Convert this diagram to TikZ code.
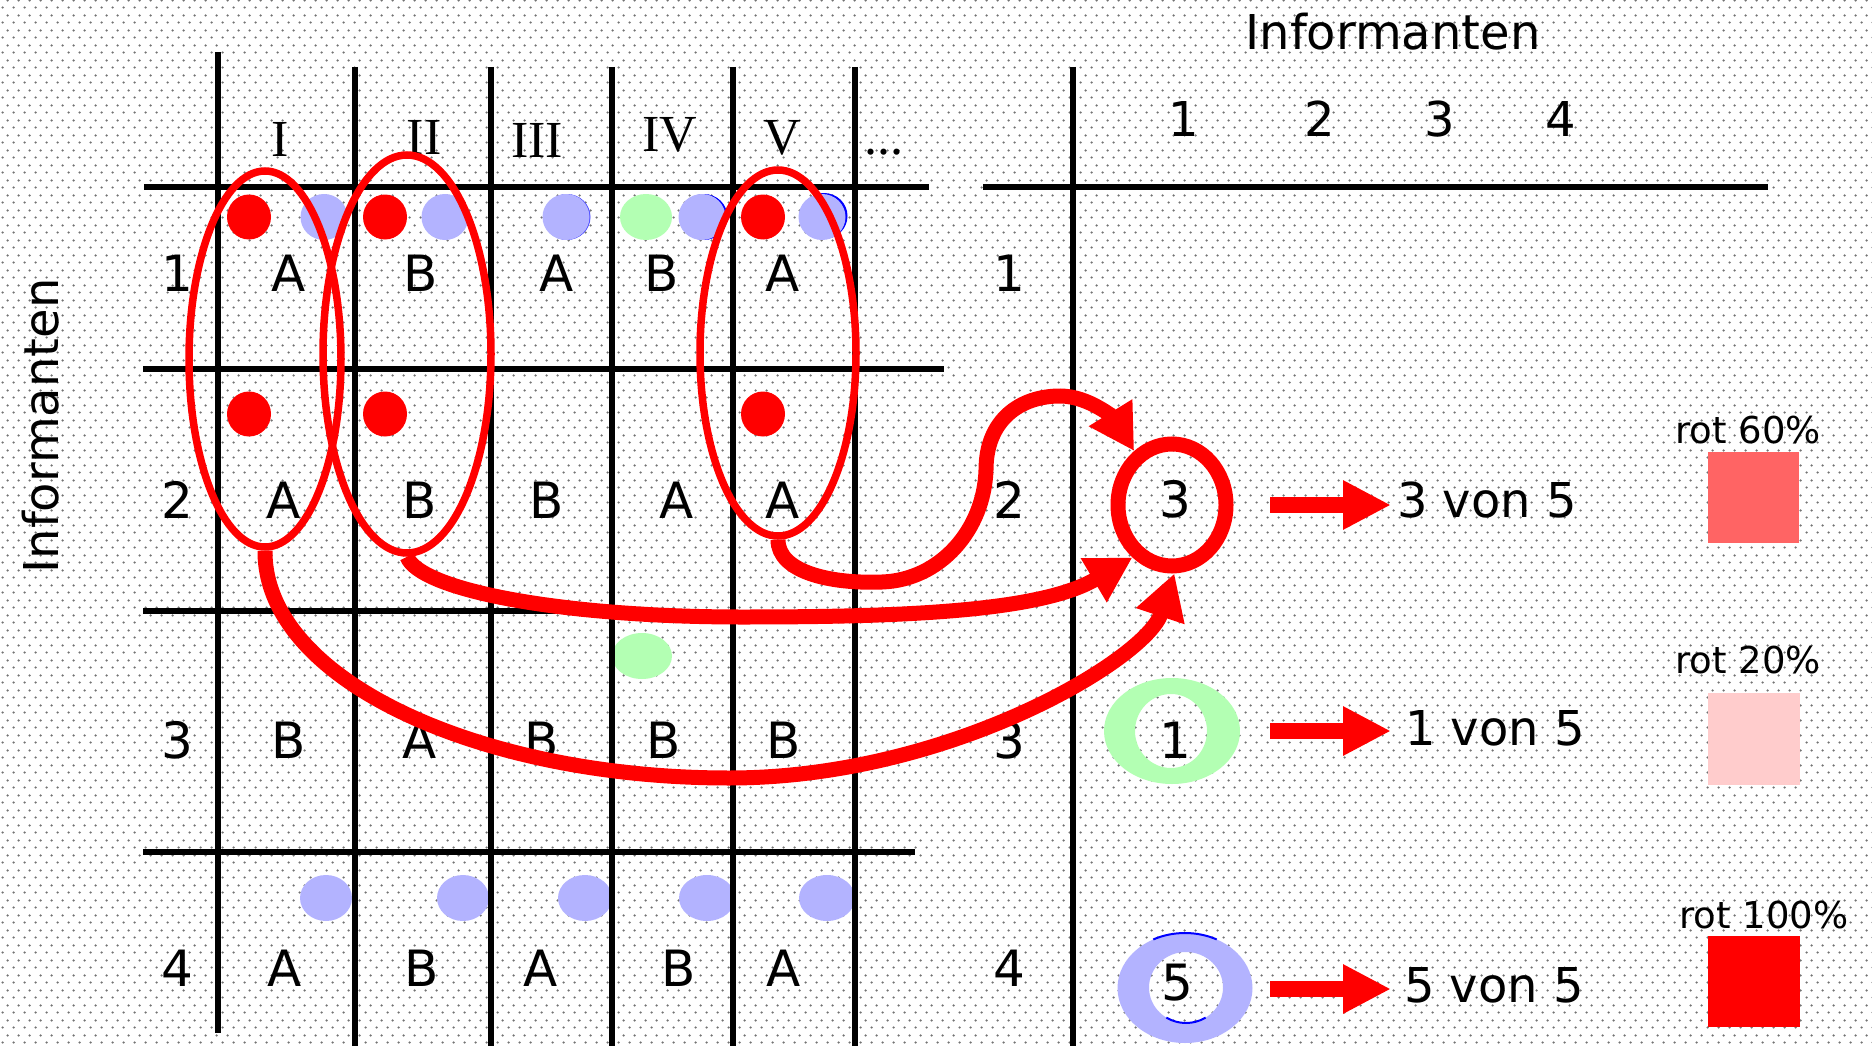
\documentclass[tikz,border=0pt]{standalone}
\usepackage{fontspec}
\setmainfont{DejaVu Sans}
\newfontfamily\romanfont{Liberation Serif}
\usetikzlibrary{patterns,shapes.geometric,arrows.meta}
\newcommand\setfs[1]{\fontsize{#1}{#1}\selectfont}
\definecolor{dotblue}{HTML}{B3B3FF}
\definecolor{dotgreen}{HTML}{B3FFB3}
\definecolor{rotsixty}{HTML}{FF6464}
\definecolor{rottwenty}{HTML}{FFCCCC}
\pgfdeclarepatternformonly{bgdots}{\pgfqpoint{0pt}{0pt}}{\pgfqpoint{10.6pt}{15pt}}{\pgfqpoint{10.6pt}{15pt}}{%
  \pgfpathcircle{\pgfqpoint{2.65pt}{3.75pt}}{1.3pt}%
  \pgfpathcircle{\pgfqpoint{7.95pt}{11.25pt}}{1.3pt}%
  \pgfusepath{fill}%
}
\begin{document}
\begin{tikzpicture}[x=1pt,y=-1pt,
  gridline/.style={line width=5.5pt, black},
  cell/.style={inner sep=0pt, anchor=base, font=\setfs{50}},
  roman/.style={inner sep=0pt, anchor=base, font=\romanfont\setfs{52}},
  headnum/.style={inner sep=0pt, anchor=base, font=\setfs{48}},
  vontext/.style={inner sep=0pt, anchor=base west, font=\setfs{48}},
  legtext/.style={inner sep=0pt, anchor=base, font=\setfs{37}},
  oval/.style={draw=red, line width=7.5pt, ellipse, inner sep=0pt},
  bigarrow/.style={red, line width=15pt, -{Triangle[length=45pt,width=48pt]}},
  blockarrow/.style={red, line width=16pt, -{Triangle[length=48pt,width=46pt]}},
  reddot/.style={fill=red},
  bluedot/.style={fill=dotblue},
  greendot/.style={fill=dotgreen}
]
\useasboundingbox (0,0) rectangle (1872,1046);
\fill[white] (0,0) rectangle (1872,1046);
\fill[pattern=bgdots, pattern color=black!55] (0,0) rectangle (1872,1046);

% ---- dots, row 1
\fill[reddot] (249,217) ellipse [x radius=22, y radius=22.5];
\fill[reddot] (385,217) ellipse [x radius=22, y radius=22.5];
\fill[reddot] (763,217) ellipse [x radius=22, y radius=22.5];
\fill[bluedot] (324,217) ellipse [x radius=23.5, y radius=23];
\fill[bluedot] (445,217) ellipse [x radius=23.5, y radius=23];
\fill[blue!70] (567,217) ellipse [x radius=23.5, y radius=23];
\fill[bluedot] (566,217) ellipse [x radius=23.5, y radius=23];
\fill[greendot] (646,217) ellipse [x radius=26, y radius=23];
\fill[blue] (704,217) ellipse [x radius=23.5, y radius=23];
\fill[bluedot] (702,217) ellipse [x radius=23.5, y radius=23];
\fill[blue] (824,216) ellipse [x radius=23.5, y radius=23];
\fill[bluedot] (822,217) ellipse [x radius=23.5, y radius=23];
% row 2
\fill[reddot] (249,414) ellipse [x radius=22, y radius=22.5];
\fill[reddot] (385,414) ellipse [x radius=22, y radius=22.5];
\fill[reddot] (763,414) ellipse [x radius=22, y radius=22.5];
% row 3
\fill[greendot] (642,656) ellipse [x radius=30, y radius=23];
% row 4
\fill[bluedot] (326,898) ellipse [x radius=26, y radius=23];
\fill[bluedot] (463,898) ellipse [x radius=26, y radius=23];
\fill[bluedot] (585,898) ellipse [x radius=27, y radius=23];
\fill[bluedot] (707,898) ellipse [x radius=28, y radius=23];
\fill[bluedot] (827,898) ellipse [x radius=28, y radius=23];

% ---- grid, left table
\draw[gridline] (218,52) -- (218,1033);
\draw[gridline] (355,67) -- (355,1046);
\draw[gridline] (491,67) -- (491,1046);
\draw[gridline] (612,67) -- (612,1046);
\draw[gridline] (733,67) -- (733,1046);
\draw[gridline] (855,67) -- (855,1046);
\draw[gridline] (144,187) -- (929,187);
\draw[gridline] (143,369) -- (944,369);
\draw[gridline] (143,611) -- (630,611);
\draw[gridline] (143,852) -- (915,852);
% right table
\draw[gridline] (1073,67) -- (1073,1046);
\draw[gridline] (983,187) -- (1768,187);

% ---- headers
\node[roman] (hI) at (280,157) {I};
\node[roman] (hII) at (424,154) {II};
\node[roman] (hIII) at (537,158) {III};
\node[roman] (hIV) at (670,152) {IV};
\node[roman] (hV) at (782,154) {V};
\node[roman] (hdots) at (884,154) {...};
\node[headnum] (informtop) at (1393,50) {Informanten};
\node[headnum, rotate=90] (informleft) at (58,426) {Informanten};
\node[headnum] (rh1) at (1184,137) {1};
\node[headnum] (rh2) at (1320,137) {2};
\node[headnum] (rh3) at (1440,137) {3};
\node[headnum] (rh4) at (1561,137) {4};

% row labels
\node[cell] (l1) at (177,291) {1};
\node[cell] (l2) at (177,518) {2};
\node[cell] (l3) at (177,758) {3};
\node[cell] (l4) at (177,986) {4};
\node[cell] (rl1) at (1009,291) {1};
\node[cell] (rl2) at (1009,518) {2};
\node[cell] (rl3) at (1009,758) {3};
\node[cell] (rl4) at (1009,986) {4};

% cells
\node[cell] (c11) at (289,291) {A};
\node[cell] (c12) at (421,291) {B};
\node[cell] (c13) at (557,291) {A};
\node[cell] (c14) at (662,291) {B};
\node[cell] (c15) at (783,291) {A};
\node[cell] (c21) at (284,518) {A};
\node[cell] (c22) at (420,518) {B};
\node[cell] (c23) at (547,518) {B};
\node[cell] (c24) at (677,518) {A};
\node[cell] (c25) at (783,518) {A};
\node[cell] (c31) at (289,758) {B};
\node[cell] (c32) at (420,758) {A};
\node[cell] (c33) at (542,758) {B};
\node[cell] (c34) at (664,758) {B};
\node[cell] (c35) at (784,758) {B};
\node[cell] (c41) at (285,986) {A};
\node[cell] (c42) at (422,986) {B};
\node[cell] (c43) at (541,986) {A};
\node[cell] (c44) at (679,986) {B};
\node[cell] (c45) at (784,986) {A};

% ---- ovals
\node[oval, minimum width=152pt, minimum height=376pt] (ovI) at (265,359) {};
\node[oval, minimum width=168pt, minimum height=398pt] (ovII) at (407,354) {};
\node[oval, minimum width=156pt, minimum height=366pt] (ovV) at (778,353) {};

% ---- rings
\node[draw=red, line width=15pt, ellipse, inner sep=0pt, minimum width=108pt, minimum height=122pt] (c3) at (1172,505) {};
\node[cell] (t3) at (1175,517) {3};

\fill[dotgreen, even odd rule] (1172,731) ellipse [x radius=68, y radius=53] (1171,731) ellipse [x radius=36, y radius=37];
\node[cell] (t1) at (1175,758) {1};

\fill[dotblue, even odd rule] (1185,988) ellipse [x radius=67.5, y radius=55] (1186,987.5) ellipse [x radius=37, y radius=35.5];
\draw[blue, line width=2pt] ([shift={(1185,988)}]242:67.5 and 55) arc [start angle=242, end angle=298, x radius=67.5, y radius=55];
\draw[blue, line width=2pt] ([shift={(1186,987.5)}]58:37 and 35.5) arc [start angle=58, end angle=122, x radius=37, y radius=35.5];
\node[cell] (t5) at (1177,1000) {5};

% ---- big curved arrows
\draw[bigarrow] (ovV.south) .. controls (778,572) and (830,584) .. (882,582)
  .. controls (940,580) and (984,530) .. (986,470)
  .. controls (986,420) and (1020,396) .. (1060,396)
  .. controls (1090,396) and (1115,420) .. (c3.125);
\draw[bigarrow] (ovII.south) .. controls (420,590) and (560,617) .. (742,617)
  .. controls (900,617) and (1040,612) .. (c3.233);
\draw[bigarrow] (ovI.south) .. controls (264,680) and (480,778) .. (729,778)
  .. controls (950,778) and (1146,659) .. (c3.272);

% ---- block arrows and results
\coordinate (a3s) at (1270,505);
\coordinate (a3e) at (1391,505);
\coordinate (a1s) at (1270,731);
\coordinate (a1e) at (1391,731);
\coordinate (a5s) at (1270,989);
\coordinate (a5e) at (1391,989);
\draw[blockarrow] (a3s) -- (a3e);
\draw[blockarrow] (a1s) -- (a1e);
\draw[blockarrow] (a5s) -- (a5e);
\node[vontext] (v3) at (1397,517) {3 von 5};
\node[vontext] (v1) at (1405,745) {1 von 5};
\node[vontext] (v5) at (1404,1002) {5 von 5};

% ---- legend
\node[legtext] (lg60) at (1748,443) {rot 60\%};
\fill[rotsixty] (1708,452) rectangle (1799,543);
\node[legtext] (lg20) at (1748,673) {rot 20\%};
\fill[rottwenty] (1708,693) rectangle (1800,785);
\node[legtext] (lg100) at (1764,928) {rot 100\%};
\fill[red] (1708,936) rectangle (1800,1027);
\end{tikzpicture}
\end{document}
